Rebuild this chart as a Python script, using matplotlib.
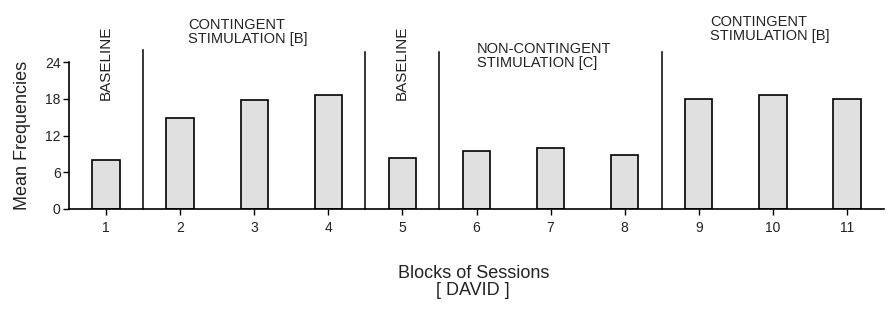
import matplotlib
matplotlib.use("Agg")
import matplotlib.pyplot as plt

# data
blocks = [1, 2, 3, 4, 5, 6, 7, 8, 9, 10, 11]
mean_freq = [8.0, 14.9, 17.8, 18.6, 8.3, 9.5, 10.0, 8.8, 18.0, 18.6, 18.0]
y_ticks = [0, 6, 12, 18, 24]
phase_breaks = [1.5, 4.5, 5.5, 8.5]
phase_tops = [26.0, 25.6, 25.6, 25.6]
phase_labels = ["BASELINE", "CONTINGENT\nSTIMULATION [B]", "BASELINE",
                "NON-CONTINGENT\nSTIMULATION [C]", "CONTINGENT\nSTIMULATION [B]"]

plt.rcParams['font.family'] = ['Liberation Sans', 'DejaVu Sans']
text_col = '#222222'

fig = plt.figure(figsize=(8.92, 3.11), dpi=100)
ax = fig.add_axes([69 / 892, 1 - 209 / 311, 815 / 892, 147 / 311])

ax.bar(blocks, mean_freq, width=0.37, color='#e0e0e0', edgecolor='black',
       linewidth=1.2, zorder=2)

for xb, top in zip(phase_breaks, phase_tops):
    ax.plot([xb, xb], [0, top], color='black', lw=1.1, clip_on=False, zorder=3)

ax.set_xlim(0.5, 11.5)
ax.set_ylim(0, 24)
ax.set_xticks(blocks)
ax.set_yticks(y_ticks)
ax.tick_params(axis='both', colors='black', labelcolor=text_col,
               width=1.0, length=4, direction='out')
ax.tick_params(axis='x', pad=5, labelsize=10)
ax.tick_params(axis='y', pad=2, labelsize=10)

for side in ['top', 'right']:
    ax.spines[side].set_visible(False)
for side in ['left', 'bottom']:
    ax.spines[side].set_linewidth(1.2)
ax.spines['left'].set_bounds(0, 24)

# phase annotations
ax.text(0.99, 29.9, phase_labels[0], rotation=90, ha='center', va='top',
        fontsize=11, color=text_col, clip_on=False)
ax.text(2.107, 31.2, phase_labels[1], ha='left', va='top', fontsize=10.5,
        color=text_col, linespacing=1.0, clip_on=False)
ax.text(4.99, 29.9, phase_labels[2], rotation=90, ha='center', va='top',
        fontsize=11, color=text_col, clip_on=False)
ax.text(6.007, 27.3, phase_labels[3], ha='left', va='top', fontsize=10.5,
        color=text_col, linespacing=1.0, clip_on=False)
ax.text(9.15, 31.7, phase_labels[4], ha='left', va='top', fontsize=10.5,
        color=text_col, linespacing=1.0, clip_on=False)

ax.set_ylabel("Mean Frequencies", fontsize=13, color=text_col, labelpad=10)
ax.text(0.496, -0.381, "Blocks of Sessions\n[ DAVID ]", transform=ax.transAxes,
        ha='center', va='top', fontsize=13, color=text_col, linespacing=1.0)

fig.savefig("out.png", dpi=100)
